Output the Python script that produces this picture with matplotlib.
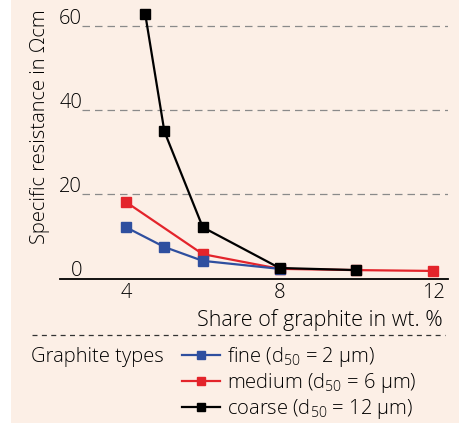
import matplotlib.pyplot as plt
from matplotlib.patches import Rectangle

plt.rcParams['font.family'] = ['Open Sans', 'DejaVu Sans']
plt.rcParams['font.weight'] = 'light'

# data
x_fine = [4, 5, 6, 8]
fine = [12.2, 7.5, 4.2, 2.3]
x_medium = [4, 6, 8, 10, 12]
medium = [18.2, 5.8, 2.3, 2.0, 1.8]
x_coarse = [4.5, 5, 6, 8, 10]
coarse = [63.0, 35.0, 12.2, 2.5, 2.0]

y_ticks = [0, 20, 40, 60]
x_ticks = [4, 8, 12]
labels = ['fine (d$_{\\mathregular{50}}$ = 2 µm)',
          'medium (d$_{\\mathregular{50}}$ = 6 µm)',
          'coarse (d$_{\\mathregular{50}}$ = 12 µm)']

bg = '#fcefe6'
blue = '#2f4f9f'
red = '#e3242b'
black = '#000000'
fs = 14.5

W, H = 459, 423
fig = plt.figure(figsize=(W / 100, H / 100), dpi=100, facecolor='white')
fig.patches.append(Rectangle((11 / W, 0), 1, 1, transform=fig.transFigure,
                             facecolor=bg, edgecolor='none', zorder=-10))

ax = fig.add_axes([60 / W, (H - 278.5) / H, 388 / W, 278.5 / H])
ax.set_facecolor('none')
ax.set_xlim(2.28, 12.39)
ax.set_ylim(0, 66.3)

for s in ['top', 'right', 'left']:
    ax.spines[s].set_visible(False)
ax.spines['bottom'].set_linewidth(1.3)

gx = 22 / 388
for v in y_ticks[1:]:
    ax.axhline(v, xmin=gx, xmax=1, color='#8a8a8a', lw=0.9,
               ls=(0, (6, 4)), zorder=1)
for v in y_ticks:
    ax.text(gx, v + 0.6, str(v), transform=ax.get_yaxis_transform(),
            ha='right', va='baseline', fontsize=fs)
ax.set_yticks([])

ax.set_xticks(x_ticks)
ax.set_xticklabels([str(t) for t in x_ticks], fontsize=fs)
ax.tick_params(axis='x', length=0, pad=3)

ms = 7.5
l2, = ax.plot(x_medium, medium, '-s', color=red, lw=1.6, ms=ms, zorder=3)
l1, = ax.plot(x_fine, fine, '-s', color=blue, lw=1.6, ms=ms, zorder=4)
l3, = ax.plot(x_coarse, coarse, '-s', color=black, lw=1.6, ms=ms, zorder=5,
              clip_on=False)

fig.text(443 / W, 1 - 320 / H, 'Share of graphite in wt. %', ha='right',
         va='center', fontsize=15.5)
fig.text(40 / W, 1 - 127 / H, 'Specific resistance in Ωcm', rotation=90,
         ha='center', va='center', fontsize=fs)

fig.add_artist(plt.Line2D([32 / W, 445 / W], [1 - 335 / H, 1 - 335 / H],
                          transform=fig.transFigure, color='#333333',
                          lw=0.9, ls=(0, (4, 3.5))))

fig.text(31 / W, 1 - 357 / H, 'Graphite types', ha='left', va='center',
         fontsize=fs)
leg = fig.legend([l1, l2, l3], labels, loc='upper left',
                 bbox_to_anchor=(182 / W, 1 - 345 / H), frameon=False,
                 fontsize=fs, handlelength=1.9, handletextpad=0.35,
                 labelspacing=0.1, borderaxespad=0, borderpad=0,
                 markerscale=0.7)

fig.savefig('out.png', dpi=100, facecolor='white')
